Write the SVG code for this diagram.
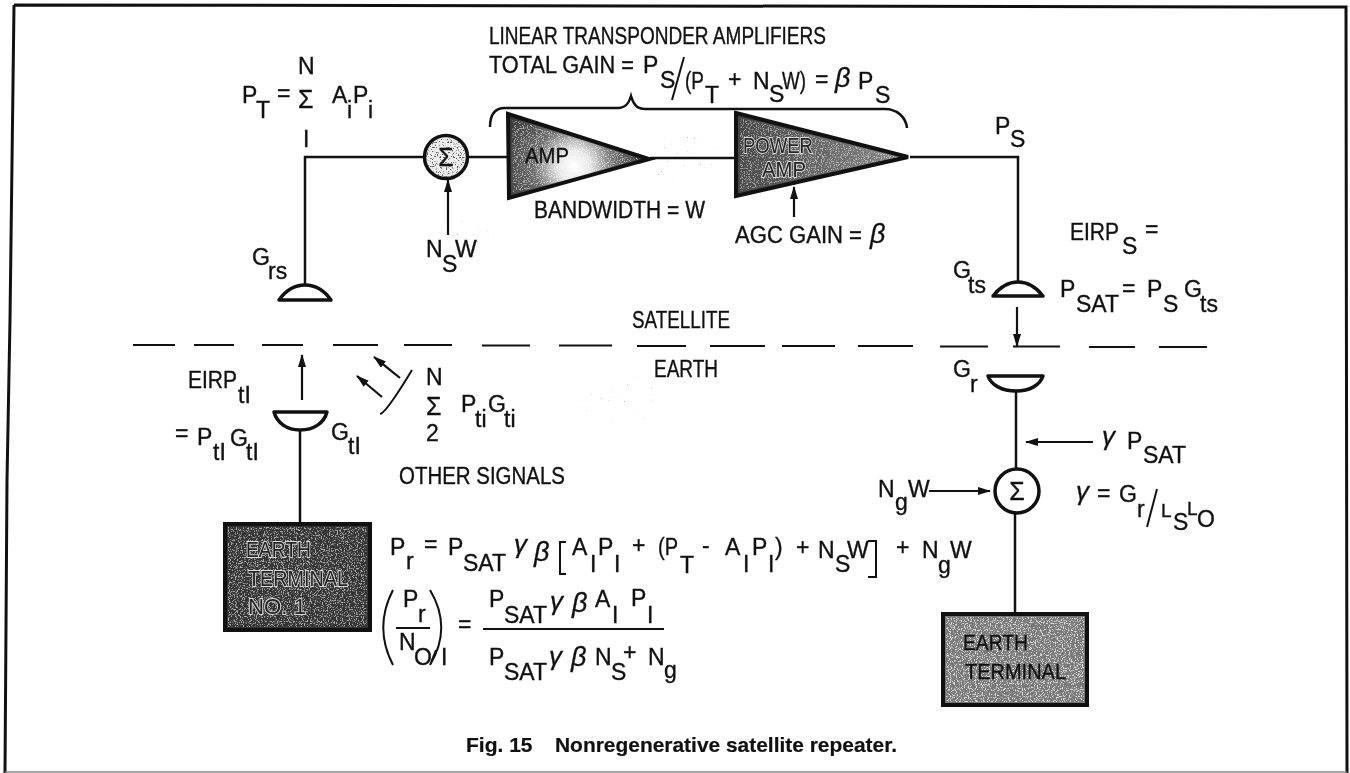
<svg xmlns="http://www.w3.org/2000/svg" width="1350" height="773" viewBox="0 0 1350 773">
<style>
text{font-family:"Liberation Sans",Arial,sans-serif;font-size:23px;fill:#111;stroke:#111;stroke-width:.35px}
.gr{font-style:italic;font-size:27px}
.gm{font-style:italic;font-size:26px}
.sg{font-size:25px}
.cap{font-weight:bold;font-size:21px;stroke-width:.2px}
.in{fill:#222;stroke:#ddd;stroke-width:1.8px;paint-order:stroke;font-size:22px}
.ind{fill:#111;stroke:#111;stroke-width:.3px;font-size:22px}
.w{fill:none;stroke:#111;stroke-width:2.5}
.th{fill:none;stroke:#111;stroke-width:2}
.a{fill:none;stroke:#111;stroke-width:2.2;marker-end:url(#ah)}
.d{fill:#fff;stroke:#111;stroke-width:3.5;stroke-linejoin:round}
</style>
<defs>
<marker id="ah" markerUnits="userSpaceOnUse" markerWidth="15" markerHeight="9" refX="12" refY="4" orient="auto"><path d="M0 0L13 4L0 8z" fill="#111"/></marker>
<filter id="grain" x="0" y="0" width="1" height="1" color-interpolation-filters="sRGB"><feTurbulence type="fractalNoise" baseFrequency="0.85" numOctaves="2" seed="4"/><feColorMatrix values="0 0 0 0 1 0 0 0 0 1 0 0 0 0 1 7 0 0 0 -3.6"/><feComposite in2="SourceAlpha" operator="in"/></filter>
<filter id="grainL" x="0" y="0" width="1" height="1" color-interpolation-filters="sRGB"><feTurbulence type="fractalNoise" baseFrequency="0.8" numOctaves="2" seed="9"/><feColorMatrix values="0 0 0 0 .35 0 0 0 0 .35 0 0 0 0 .35 8 0 0 0 -4.6"/><feComposite in2="SourceAlpha" operator="in"/></filter>
<filter id="stip" x="0" y="0" width="1" height="1" color-interpolation-filters="sRGB"><feTurbulence type="fractalNoise" baseFrequency="0.7" numOctaves="1" seed="12"/><feColorMatrix values="0 0 0 0 .55 0 0 0 0 .55 0 0 0 0 .55 14 0 0 0 -10.2"/><feComposite in2="SourceAlpha" operator="in"/></filter>
<radialGradient id="g1" gradientUnits="userSpaceOnUse" cx="574" cy="166" r="72"><stop offset="0" stop-color="#fff"/><stop offset=".22" stop-color="#e8e8e8"/><stop offset=".55" stop-color="#6e6e6e"/><stop offset="1" stop-color="#3c3c3c"/></radialGradient>
<linearGradient id="g2" gradientUnits="userSpaceOnUse" x1="735" y1="150" x2="905" y2="160"><stop offset="0" stop-color="#444"/><stop offset=".6" stop-color="#6c6c6c"/><stop offset="1" stop-color="#888"/></linearGradient>
</defs>
<rect width="1350" height="773" fill="#fff"/>
<path id="frame" d="M14 5L1346 7L1347 773M14 5L10 320L7 480L5 773" fill="none" stroke="#111" stroke-width="3"/>
<path id="frame-bottom" d="M5 772H1347" fill="none" stroke="#888" stroke-width="1.5"/>
<g id="speckle" opacity=".6"><ellipse cx="695" cy="160" rx="45" ry="30" fill="#fff" filter="url(#stip)"/><ellipse cx="470" cy="235" rx="30" ry="18" fill="#fff" filter="url(#stip)"/><ellipse cx="620" cy="405" rx="40" ry="30" fill="#fff" filter="url(#stip)"/></g>

<g id="connectors">
<path class="w" d="M305 285V157H425M469 157H508M650 158H735M910 157H1018V283M1016 391V470M1015 513V613M300 430V523"/>
<path class="a" d="M448 235V180"/>
<path class="a" d="M794 217V187"/>
<path class="a" d="M1017 307V346"/>
<path class="a" d="M302 400V355"/>
<path class="a" d="M1093 442H1026"/>
<path class="a" d="M929 491H990"/>
<path class="a" d="M400 378L374 357"/>
<path class="a" d="M382 397L357 376"/>
<path class="th" d="M380 414Q386 413 412 370"/>
<path id="divider" fill="none" stroke="#111" stroke-width="1.8" d="M133 345H175M194 345H234M262 345H303M333 345H378M404 345H452M482 345.500H530M559 345.500H612M637 346H686M710 346H765M782 346H835M858 346H913M940 346.500H988M1013 346.500H1060M1089 347H1135M1159 347H1207"/>
<path class="w" d="M490 127C490 115 494 108 505 108H618C626 108 629 103 631 96C633 103 636 109 645 109H885C898 109 906 118 907 128" stroke-width="2"/>
</g>

<g id="sum1"><circle cx="446" cy="157" r="21.500" fill="#eee" stroke="#111" stroke-width="3.500"/><circle cx="446" cy="157" r="20" fill="#fff" filter="url(#grainL)"/><text class="sg" x="446" y="166" text-anchor="middle">Σ</text></g>
<g id="amp"><path d="M508 114L649 159L509 198z" fill="url(#g1)" stroke="#111" stroke-width="4" stroke-linejoin="miter"/><path d="M512 119L640 159L513 193z" fill="#fff" filter="url(#grain)" opacity=".55"/><text class="ind" x="525" y="163" textLength="44" lengthAdjust="spacingAndGlyphs">AMP</text></g>
<g id="power-amp"><path d="M736 113L908 157L736 196z" fill="url(#g2)" stroke="#111" stroke-width="4" stroke-linejoin="miter"/><path d="M740 118L898 157L740 191z" fill="#fff" filter="url(#grain)" opacity=".5"/><text class="in" x="743" y="153" textLength="70" lengthAdjust="spacingAndGlyphs">POWER</text><text class="in" x="762" y="177" textLength="44" lengthAdjust="spacingAndGlyphs">AMP</text></g>
<g id="ant-grs"><path class="d" d="M279 300C286 290 295 285 305 285C315 285 324 290 331 300z"/></g>
<g id="ant-gts"><path class="d" d="M993 296C1000 287 1008 282 1018 282C1028 282 1036 287 1043 296z"/></g>
<g id="ant-gr"><path class="d" d="M988 376H1043C1040 385 1030 391 1016 391C1002 391 991 385 988 376z"/></g>
<g id="ant-gt1"><path class="d" d="M274 412H327C324 423 314 430 300 430C287 430 277 423 274 412z"/></g>
<g id="sum2"><circle cx="1017" cy="491" r="22" fill="#fff" stroke="#111" stroke-width="3.500"/><text class="sg" x="1017" y="500" text-anchor="middle">Σ</text></g>
<g id="earth-terminal-1"><rect x="225" y="524" width="145" height="106" fill="#333" stroke="#111" stroke-width="4"/><rect x="228" y="527" width="139" height="100" fill="#fff" filter="url(#grain)" opacity=".6"/><text class="in" x="246" y="557" textLength="65" lengthAdjust="spacingAndGlyphs">EARTH</text><text class="in" x="248" y="586" textLength="100" lengthAdjust="spacingAndGlyphs">TERMINAL</text><text class="in" x="248" y="614" textLength="58" lengthAdjust="spacingAndGlyphs">NO. 1</text></g>
<g id="earth-terminal"><rect x="943" y="614" width="144" height="91" fill="#777" stroke="#111" stroke-width="4"/><rect x="946" y="617" width="138" height="85" fill="#fff" filter="url(#grain)" opacity=".75"/><text class="ind" x="963" y="650" textLength="65" lengthAdjust="spacingAndGlyphs">EARTH</text><text class="ind" x="965" y="679" textLength="101" lengthAdjust="spacingAndGlyphs">TERMINAL</text></g>

<g id="labels">
<text x="489" y="44" textLength="337" lengthAdjust="spacingAndGlyphs">LINEAR TRANSPONDER AMPLIFIERS</text>
<text x="489" y="73" textLength="145" lengthAdjust="spacingAndGlyphs">TOTAL GAIN =</text>
<text><tspan x="643" y="73">P</tspan><tspan x="660" y="88">S</tspan></text>
<text x="685" y="89" textLength="19" lengthAdjust="spacingAndGlyphs">(P</text>
<text><tspan x="705" y="103">T</tspan><tspan x="728" y="87">+</tspan><tspan x="753" y="89">N</tspan><tspan x="769" y="102">S</tspan></text>
<text x="782" y="89" textLength="24" lengthAdjust="spacingAndGlyphs">W)</text>
<text x="815" y="87">=</text>
<text><tspan x="858" y="89">P</tspan><tspan x="875" y="103">S</tspan></text>
<text class="gr" x="835" y="87">β</text>
<path class="th" d="M672 100L684 57"/>

<text><tspan x="242" y="103">P</tspan><tspan x="256" y="118">T</tspan><tspan x="277" y="101">=</tspan><tspan x="298" y="74">N</tspan><tspan x="303" y="147">I</tspan><tspan x="332" y="103">A</tspan><tspan x="347" y="118">i</tspan><tspan x="353" y="103">P</tspan><tspan x="368" y="118">i</tspan></text>
<text class="sg" x="298" y="108">Σ</text>
<text><tspan x="252" y="265">G</tspan><tspan x="268" y="279">rs</tspan></text>
<text><tspan x="426" y="257">N</tspan><tspan x="442" y="272">S</tspan><tspan x="455" y="257">W</tspan></text>
<text x="534" y="218" textLength="171" lengthAdjust="spacingAndGlyphs">BANDWIDTH = W</text>
<text x="735" y="243" textLength="127" lengthAdjust="spacingAndGlyphs">AGC GAIN =</text>
<text class="gr" x="870" y="243">β</text>
<text><tspan x="995" y="134">P</tspan><tspan x="1010" y="147">S</tspan></text>
<text><tspan x="953" y="278">G</tspan><tspan x="968" y="293">ts</tspan></text>
<text x="1070" y="240" textLength="49" lengthAdjust="spacingAndGlyphs">EIRP</text>
<text><tspan x="1122" y="254">S</tspan><tspan x="1145" y="237">=</tspan></text>
<text><tspan x="1060" y="297">P</tspan><tspan x="1076" y="312">SAT</tspan><tspan x="1122" y="296">=</tspan><tspan x="1147" y="297">P</tspan><tspan x="1163" y="312">S</tspan><tspan x="1184" y="297">G</tspan><tspan x="1200" y="312">ts</tspan></text>
<text x="632" y="328" textLength="98" lengthAdjust="spacingAndGlyphs">SATELLITE</text>
<text x="654" y="377" textLength="64" lengthAdjust="spacingAndGlyphs">EARTH</text>
<text><tspan x="953" y="377">G</tspan><tspan x="970" y="392">r</tspan></text>
<text class="gm" x="1102" y="445">γ</text>
<text><tspan x="1127" y="449">P</tspan><tspan x="1143" y="463">SAT</tspan></text>
<text><tspan x="878" y="497">N</tspan><tspan x="895" y="510">g</tspan><tspan x="908" y="497">W</tspan></text>
<text class="gm" x="1076" y="500">γ</text>
<text><tspan x="1097" y="501">=</tspan><tspan x="1119" y="502">G</tspan><tspan x="1137" y="517">r</tspan><tspan x="1161" y="517" font-size="19">L</tspan><tspan x="1173" y="530">S</tspan><tspan x="1187" y="515" font-size="19">L</tspan><tspan x="1197" y="527">O</tspan></text>
<path class="th" d="M1147 527L1157 489"/>

<text x="188" y="388" textLength="49" lengthAdjust="spacingAndGlyphs">EIRP</text>
<text><tspan x="238" y="403">tI</tspan><tspan x="175" y="441">=</tspan><tspan x="197" y="445">P</tspan><tspan x="213" y="460">tI</tspan><tspan x="230" y="446">G</tspan><tspan x="246" y="460">tI</tspan></text>
<text><tspan x="331" y="440">G</tspan><tspan x="348" y="454">tI</tspan></text>
<text><tspan x="426" y="385">N</tspan><tspan x="426" y="441">2</tspan><tspan x="461" y="412">P</tspan><tspan x="475" y="427">ti</tspan><tspan x="488" y="412">G</tspan><tspan x="504" y="427">ti</tspan></text>
<text class="sg" x="426" y="415">Σ</text>
<text x="399" y="484" textLength="166" lengthAdjust="spacingAndGlyphs">OTHER SIGNALS</text>

<text><tspan x="390" y="555">P</tspan><tspan x="406" y="569">r</tspan><tspan x="424" y="552">=</tspan><tspan x="448" y="555">P</tspan><tspan x="463" y="571">SAT</tspan><tspan x="572" y="555">A</tspan><tspan x="590" y="572">I</tspan><tspan x="598" y="555">P</tspan><tspan x="614" y="572">I</tspan><tspan x="632" y="553">+</tspan></text>
<text x="658" y="555" textLength="20" lengthAdjust="spacingAndGlyphs">(P</text>
<text><tspan x="680" y="573">T</tspan><tspan x="702" y="553">-</tspan><tspan x="725" y="555">A</tspan><tspan x="743" y="572">I</tspan><tspan x="752" y="555">P</tspan><tspan x="768" y="572">I</tspan><tspan x="775" y="555">)</tspan><tspan x="796" y="555">+</tspan><tspan x="818" y="558">N</tspan><tspan x="835" y="572">S</tspan><tspan x="847" y="558">W</tspan><tspan x="896" y="555">+</tspan><tspan x="922" y="558">N</tspan><tspan x="938" y="573">g</tspan><tspan x="950" y="558">W</tspan></text>
<text class="gm" x="514" y="553">γ</text>
<text class="gr" x="534" y="561">β</text>
<path class="th" d="M566 542H560V574H566M868 541H876V577H868"/>
<path class="th" d="M393 590C380 615 380 640 393 665M430 590C445 615 445 640 430 665M430 665L436 650M396 628H430"/>
<text><tspan x="403" y="607">P</tspan><tspan x="418" y="622">r</tspan><tspan x="399" y="650">N</tspan><tspan x="414" y="665">O</tspan><tspan x="441" y="665">I</tspan><tspan x="458" y="632">=</tspan></text>
<text><tspan x="489" y="607">P</tspan><tspan x="504" y="623">SAT</tspan><tspan x="595" y="607">A</tspan><tspan x="612" y="623">I</tspan><tspan x="631" y="606">P</tspan><tspan x="647" y="623">I</tspan></text>
<text class="gm" x="550" y="610">γ</text>
<text class="gr" x="572" y="612">β</text>
<text class="gm" x="549" y="665">γ</text>
<text class="gr" x="571" y="666">β</text>
<path class="th" d="M483 629H664"/>
<text><tspan x="489" y="665">P</tspan><tspan x="504" y="680">SAT</tspan><tspan x="595" y="665">N</tspan><tspan x="611" y="680">S</tspan><tspan x="623" y="660">+</tspan><tspan x="648" y="665">N</tspan><tspan x="664" y="678">g</tspan></text>
<text class="cap" x="466" y="752">Fig. 15</text>
<text class="cap" x="555" y="752" textLength="342" lengthAdjust="spacingAndGlyphs">Nonregenerative satellite repeater.</text>
</g>
</svg>
